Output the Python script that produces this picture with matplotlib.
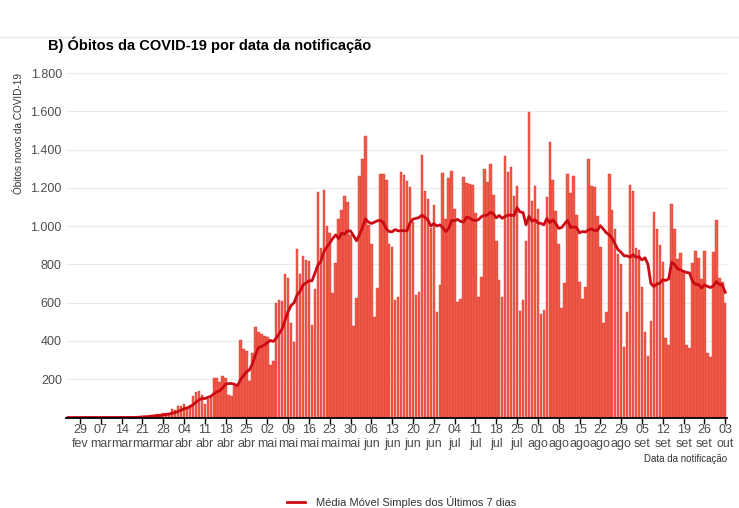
import numpy as np
import pandas as pd
import matplotlib
matplotlib.use("Agg")
import matplotlib.pyplot as plt
from matplotlib.lines import Line2D

## Óbitos novos por data de notificação (25/fev a 03/out)
obitos_fev = [0, 0, 0, 0, 0]
obitos_mar = [0] * 16 + [1, 3, 3, 4, 7, 7, 9, 12, 11, 20, 15, 22, 22, 23, 42]
obitos_abr = [40, 58, 60, 73, 54, 67, 114, 133, 141, 115, 68, 99, 105, 204, 204,
              188, 217, 206, 115, 113, 166, 165, 407, 357, 346, 189, 338, 474, 449, 435]
obitos_mai = [428, 421, 275, 296, 600, 615, 610, 751, 730, 496, 396, 881, 749, 844, 824,
              816, 485, 674, 1179, 888, 1188, 1001, 965, 653, 807, 1039, 1086, 1156, 1124, 956, 480]
obitos_jun = [623, 1262, 1349, 1473, 1005, 904, 525, 679, 1272, 1274, 1239, 909, 892, 612, 627,
              1282, 1269, 1238, 1206, 1022, 641, 654, 1374, 1185, 1141, 990, 1109, 552, 692, 1280]
obitos_jul = [1038, 1252, 1290, 1091, 602, 620, 1254, 1223, 1220, 1214, 1071, 631, 733, 1300, 1233,
              1322, 1163, 921, 716, 632, 1367, 1284, 1311, 1156, 1211, 555, 614, 921, 1595, 1129, 1212]
obitos_ago = [1088, 541, 561, 1154, 1437, 1240, 1079, 905, 572, 703, 1274, 1175, 1262, 1060, 709,
              620, 684, 1352, 1212, 1204, 1054, 892, 494, 551, 1271, 1085, 984, 855, 800, 366, 553]
obitos_set = [1215, 1184, 888, 874, 682, 447, 320, 504, 1075, 983, 899, 814, 415, 381, 1113,
              987, 829, 858, 760, 377, 363, 809, 869, 831, 725, 869, 335, 317, 863, 1031]
obitos_out = [729, 706, 599]

meses = ["jan", "fev", "mar", "abr", "mai", "jun", "jul", "ago", "set", "out", "nov", "dez"]

obitos = np.array(obitos_fev + obitos_mar + obitos_abr + obitos_mai + obitos_jun
                  + obitos_jul + obitos_ago + obitos_set + obitos_out)
datas = pd.date_range("2020-02-25", periods=len(obitos), freq="D")

# Média móvel simples de 7 dias
media_movel = pd.Series(obitos).rolling(7, min_periods=1).mean().values

x = np.arange(len(obitos))

plt.rcParams["font.family"] = ["Liberation Sans", "DejaVu Sans"]

## Figura
fig = plt.figure(figsize=(7.39, 5.08), dpi=100)
ax = fig.add_axes([66 / 739, 1 - 417.5 / 508, (727 - 66) / 739, (417.5 - 73) / 508])

ax.bar(x, obitos, width=0.85, color="#F05A4A", edgecolor="#D9392E", linewidth=0.3, zorder=2)
ax.plot(x, media_movel, color="#CC0A14", linewidth=2, zorder=3,
        label="Média Móvel Simples dos Últimos 7 dias")

ax.set_xlim(-0.7, len(obitos) - 0.4)
ax.set_ylim(0, 1800)

# eixo y
ax.set_yticks(np.arange(200, 1801, 200))
ax.set_yticklabels([f"{v:,}".replace(",", ".") for v in range(200, 1801, 200)])
ax.grid(axis="y", color="#EBEBEB", linewidth=0.8, zorder=0)
ax.tick_params(axis="y", length=0, pad=3, labelsize=9, labelcolor="#4D4D4D")

# eixo x: semanas a partir de 29/fev
inicio = pd.Timestamp("2020-02-29")
pos_ticks = [i for i, d in enumerate(datas) if d >= inicio and (d - inicio).days % 7 == 0]
rotulos = [f"{datas[i].day:02d}\n{meses[datas[i].month - 1]}" for i in pos_ticks]
ax.set_xticks(pos_ticks)
ax.set_xticklabels(rotulos, linespacing=1.2)
ax.tick_params(axis="x", length=4, width=1, color="black", pad=1, labelsize=9, labelcolor="#4D4D4D")

for s in ["top", "right", "left"]:
    ax.spines[s].set_visible(False)
ax.spines["bottom"].set_linewidth(1.3)
ax.spines["bottom"].set_zorder(4)

ax.set_ylabel("Óbitos novos da COVID-19", fontsize=7.2, color="#333333", loc="top", labelpad=5)
ax.set_xlabel("Data da notificação", fontsize=7, color="#333333", loc="right", labelpad=3)

fig.text(48 / 739, 1 - 45 / 508, "B) Óbitos da COVID-19 por data da notificação",
         fontweight="bold", fontsize=10.5, va="center", ha="left")

# linha cinza no topo
fig.add_artist(Line2D([0, 1], [1 - 37 / 508, 1 - 37 / 508], color="#E6E6E6", linewidth=1))

leg = fig.legend(loc="center", bbox_to_anchor=(402 / 739, 1 - 502 / 508), frameon=False,
                 prop={"size": 8}, handlelength=1.6, handletextpad=1.0)
for t in leg.get_texts():
    t.set_color("#333333")

fig.savefig("out.png", dpi=100)
